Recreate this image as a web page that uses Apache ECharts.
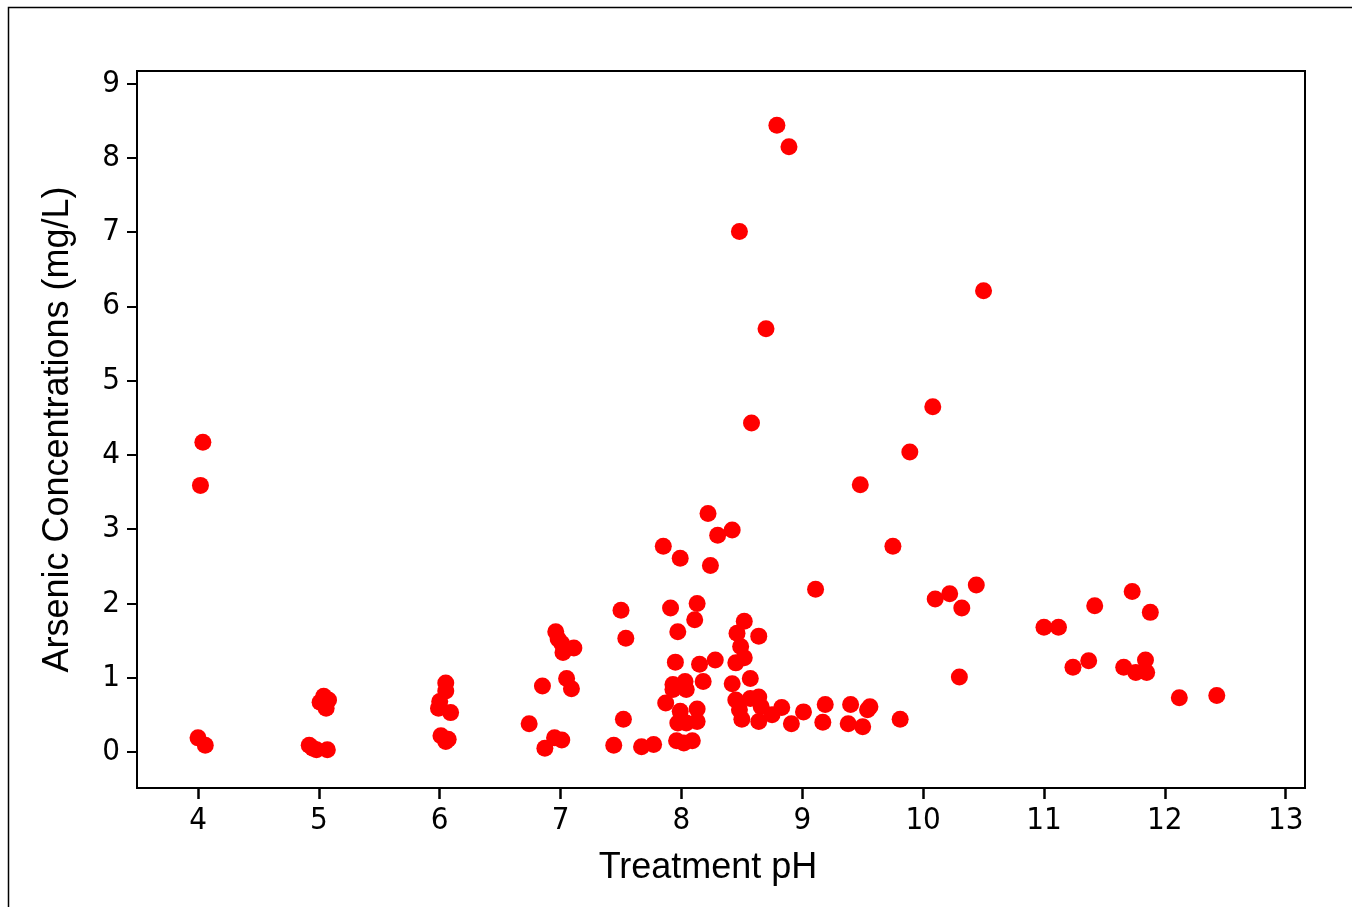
<!DOCTYPE html>
<html>
<head>
<meta charset="utf-8">
<title>Arsenic vs pH</title>
<script src="https://cdn.jsdelivr.net/npm/echarts@6/dist/echarts.min.js"></script>
<style>
  html, body { margin: 0; padding: 0; background: #fff; }
  #chart { width: 1352px; height: 907px; }
</style>
</head>
<body>
<div id="chart"></div>
<script>
// treatment pH of each sample
const phValues = [
  4.04, 4.02, 4.00, 4.06,
  4.92, 4.95, 4.98, 5.07, 5.01, 5.04, 5.08, 5.06,
  6.05, 6.05, 6.00, 5.99, 6.09, 6.01, 6.07, 6.05,
  6.96, 6.98, 7.02, 7.11, 7.01, 6.85, 7.05, 7.09, 6.74, 6.95, 7.01, 6.87,
  7.50, 7.54, 7.52, 7.44, 7.67, 7.77,
  7.85, 7.99, 7.91, 8.13, 8.11, 7.97, 7.95, 8.15, 8.18, 7.93, 8.03, 8.04, 7.93,
  7.87, 7.99, 8.13, 7.97, 8.13, 8.04, 7.96, 8.02, 8.09,
  8.22, 8.30, 8.42, 8.24, 8.28, 8.52, 8.46, 8.64, 8.49, 8.52, 8.45, 8.42, 8.57,
  8.45, 8.57, 8.64, 8.48, 8.50, 8.64, 8.66, 8.75, 8.83, 8.91, 9.01,
  8.79, 8.89, 8.48, 8.70, 8.58,
  9.11, 9.19, 9.17, 9.40, 9.38, 9.56, 9.54, 9.50, 9.81,
  10.50, 10.08, 9.89, 9.48, 9.75,
  10.10, 10.22, 10.44, 10.32, 10.30,
  11.00, 11.12, 11.42, 11.73, 11.88, 11.24, 11.37, 11.66, 11.76, 11.84, 11.85,
  12.12, 12.43
];
// arsenic concentration (mg/L), same order
const arsenicValues = [
  4.17, 3.59, 0.19, 0.09,
  0.09, 0.05, 0.03, 0.03, 0.67, 0.75, 0.70, 0.59,
  0.93, 0.82, 0.68, 0.59, 0.53, 0.22, 0.17, 0.14,
  1.62, 1.52, 1.34, 1.40, 1.46, 0.89, 0.99, 0.85, 0.38, 0.19, 0.16, 0.05,
  1.91, 1.53, 0.44, 0.09, 0.07, 0.10,
  2.77, 2.61, 1.94, 2.00, 1.78, 1.62, 1.21, 1.18, 0.95, 0.91, 0.95, 0.84, 0.84,
  0.66, 0.55, 0.58, 0.39, 0.41, 0.39, 0.15, 0.12, 0.15,
  3.21, 2.92, 2.99, 2.51, 1.24, 1.76, 1.60, 1.56, 1.42, 1.27, 1.20, 0.92, 0.99,
  0.70, 0.72, 0.74, 0.57, 0.44, 0.41, 0.61, 0.50, 0.60, 0.38, 0.54,
  8.44, 8.15, 7.01, 5.70, 4.43,
  2.19, 0.64, 0.40, 0.64, 0.38, 0.61, 0.57, 0.34, 0.44,
  6.21, 4.65, 4.04, 3.60, 2.77,
  2.06, 2.13, 2.25, 1.94, 1.01,
  1.68, 1.68, 1.97, 2.16, 1.88, 1.14, 1.23, 1.14, 1.07, 1.24, 1.07,
  0.73, 0.76
];
const xTicks = [4, 5, 6, 7, 8, 9, 10, 11, 12, 13];
const yTicks = [0, 1, 2, 3, 4, 5, 6, 7, 8, 9];

const chart = echarts.init(document.getElementById('chart'));

const points = phValues.map((ph, i) => [ph, arsenicValues[i]]);

const tickFont = "'DejaVu Sans Condensed', 'DejaVu Sans', sans-serif";

const option = {
  backgroundColor: '#ffffff',
  animation: false,
  grid: {
    left: 137,
    top: 71,
    right: 47,
    bottom: 119,
    show: true,
    borderColor: '#000',
    borderWidth: 2,
    backgroundColor: 'transparent'
  },
  // outer frame line (only top and left visible in the picture)
  graphic: [{
    type: 'rect',
    shape: { x: 8.5, y: 7.5, width: 1400, height: 1000 },
    style: { fill: 'none', stroke: '#000', lineWidth: 1.5 },
    silent: true
  }],
  xAxis: {
    type: 'value',
    min: 3.495,
    max: 13.16,
    interval: 1,
    name: 'Treatment pH',
    nameLocation: 'middle',
    nameGap: 62,
    nameTextStyle: { fontFamily: 'Liberation Sans', fontSize: 36, color: '#000',
      padding: [0, 26, 0, 0] },
    axisLine: { show: true, onZero: false, lineStyle: { color: '#000', width: 2 } },
    axisTick: { show: true, length: 11, lineStyle: { color: '#000', width: 2.5 },
      customValues: xTicks },
    axisLabel: { margin: 17, fontFamily: tickFont, fontSize: 31, color: '#000',
      customValues: xTicks, formatter: v => String(v) },
    splitLine: { show: false }
  },
  yAxis: {
    type: 'value',
    min: -0.485,
    max: 9.17,
    interval: 1,
    name: 'Arsenic Concentrations (mg/L)',
    nameLocation: 'middle',
    nameGap: 61,
    nameTextStyle: { fontFamily: 'Liberation Sans', fontSize: 36, color: '#000' },
    axisLine: { show: true, onZero: false, lineStyle: { color: '#000', width: 2 } },
    axisTick: { show: true, length: 10, lineStyle: { color: '#000', width: 2 },
      customValues: yTicks },
    axisLabel: { margin: 17, fontFamily: tickFont, fontSize: 31, color: '#000',
      customValues: yTicks, formatter: v => String(v) },
    splitLine: { show: false }
  },
  series: [{
    type: 'scatter',
    data: points,
    symbol: 'circle',
    symbolSize: 17,
    itemStyle: { color: '#ff0000', opacity: 1 }
  }]
};

chart.setOption(option);
window.addEventListener('resize', () => chart.resize());
</script>
</body>
</html>
